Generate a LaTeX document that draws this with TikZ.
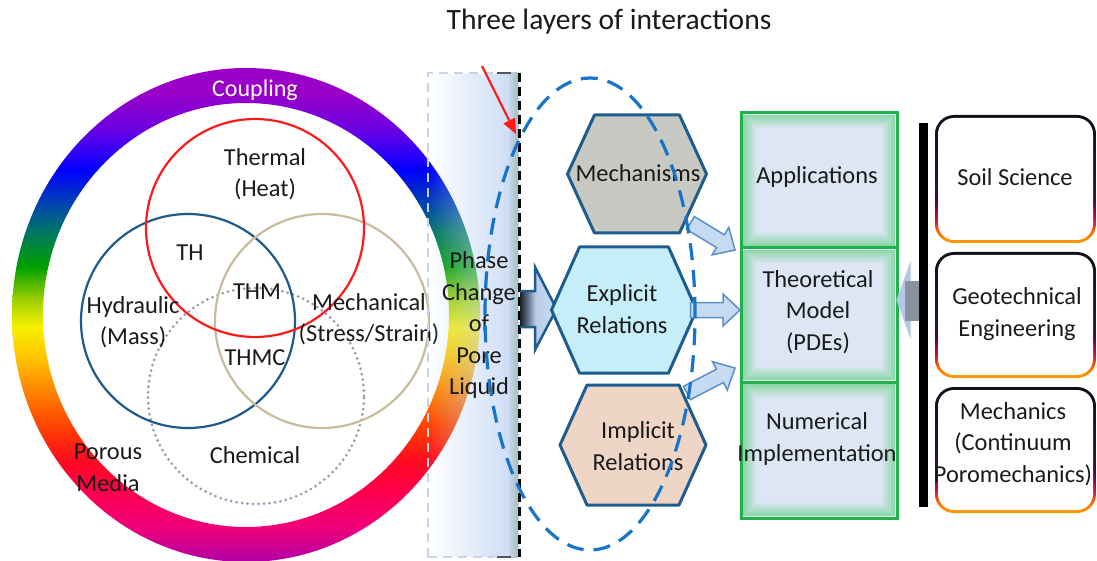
\documentclass[tikz,border=0pt]{standalone}
\usepackage{fontspec}
\setmainfont{Carlito}
\usetikzlibrary{arrows.meta,calc,fadings}

% ---------- colours ----------
\definecolor{ink}{HTML}{1A1A1A}
\definecolor{ringA}{HTML}{B000A8}
\definecolor{ringB}{HTML}{F0007A}
\definecolor{ringC}{HTML}{FF0050}
\definecolor{ringD}{HTML}{FF0A20}
\definecolor{ringE}{HTML}{FF4000}
\definecolor{ringF}{HTML}{FF8000}
\definecolor{ringG}{HTML}{FFC000}
\definecolor{ringH}{HTML}{F8F000}
\definecolor{ringI}{HTML}{A0D000}
\definecolor{ringJ}{HTML}{00A000}
\definecolor{ringK}{HTML}{007860}
\definecolor{ringL}{HTML}{0050A0}
\definecolor{ringM}{HTML}{0000FF}
\definecolor{ringN}{HTML}{3000F8}
\definecolor{ringO}{HTML}{7000E0}
\definecolor{ringP}{HTML}{9A00C8}
\definecolor{venred}{HTML}{FF1A1A}
\definecolor{venblue}{HTML}{1F5A8A}
\definecolor{ventan}{HTML}{C8BC9C}
\definecolor{vendot}{HTML}{909CB2}
\definecolor{panelblue}{HTML}{C4D6F4}
\definecolor{stripgreen}{HTML}{A8BEB6}
\definecolor{panelline}{HTML}{C8D4E6}
\definecolor{paneldark}{HTML}{505860}
\definecolor{hexblue}{HTML}{1E5C8E}
\definecolor{mechfill}{HTML}{C9C9C3}
\definecolor{explfill}{HTML}{C5EEF9}
\definecolor{implfill}{HTML}{EFD5C5}
\definecolor{baA}{HTML}{1A1E26}
\definecolor{baB}{HTML}{5C6A80}
\definecolor{baC}{HTML}{B8CCE8}
\definecolor{baD}{HTML}{C8DCF2}
\definecolor{arrline}{HTML}{5B8FC8}
\definecolor{arrfill}{HTML}{C6DBF2}
\definecolor{cellgreen}{HTML}{1DB34A}
\definecolor{glowgreen}{HTML}{6FD08A}
\definecolor{cellblue}{HTML}{DCE6F4}
\definecolor{bdA}{HTML}{FFA000}
\definecolor{bdB}{HTML}{FF7000}
\definecolor{bdC}{HTML}{D0103C}
\definecolor{bdD}{HTML}{500050}
\definecolor{bdE}{HTML}{181848}
\definecolor{bdF}{HTML}{101018}
\definecolor{dashblue}{HTML}{1874C8}
\definecolor{shaftdark}{HTML}{30343C}
\definecolor{shaftlight}{HTML}{8A92A2}
\definecolor{barhead}{HTML}{B4C8E4}

% ---------- shadings and fadings ----------
\pgfdeclareverticalshading{ringshade}{100bp}{color(0bp)=(ringA); color(25bp)=(ringA);
  color(28.54bp)=(ringB); color(31.98bp)=(ringC); color(35.32bp)=(ringD);
  color(38.66bp)=(ringE); color(42.11bp)=(ringF); color(45.45bp)=(ringG);
  color(48.79bp)=(ringH); color(51.52bp)=(ringI); color(54.86bp)=(ringJ);
  color(58.30bp)=(ringK); color(60.63bp)=(ringL); color(64.68bp)=(ringM);
  color(66.40bp)=(ringN); color(69.03bp)=(ringO); color(72.47bp)=(ringP);
  color(100bp)=(ringP)}
\pgfdeclareverticalshading{bordershade}{100bp}{color(0bp)=(bdA); color(25bp)=(bdA);
  color(29bp)=(bdB); color(34bp)=(bdC); color(41bp)=(bdD); color(50bp)=(bdE);
  color(75bp)=(bdF); color(100bp)=(bdF)}
\pgfdeclarehorizontalshading{bigarrowshade}{100bp}{color(0bp)=(baA); color(25bp)=(baA);
  color(35bp)=(baB); color(46bp)=(baC); color(75bp)=(baD); color(100bp)=(baD)}
\tikzfading[name=panelfade, left color=transparent!100, middle color=transparent!70,
  right color=transparent!10]

\newcommand\lblfont{\fontsize{24.4}{31.5}\selectfont}
\newcommand\titlefont{\fontsize{29.5}{35}\selectfont}

% hexagon outline around a named (empty) box node; #2 = horizontal inset of the corners
\newcommand\hexpath[2]{(#1.west) -- ([xshift=#2]#1.north west) -- ([xshift=-#2]#1.north east)
  -- (#1.east) -- ([xshift=-#2]#1.south east) -- ([xshift=#2]#1.south west) -- cycle}

% block arrow from coordinate #2 to coordinate #3 with style #1
\newcommand\fatarrow[3]{%
  \coordinate (#2#3b) at ($(#3)!17pt!(#2)$);
  \filldraw[#1] ($(#2)!7.5pt!90:(#3)$) -- ($(#2#3b)!7.5pt!90:(#3)$)
    -- ($(#2#3b)!16pt!90:(#3)$) -- (#3) -- ($(#2#3b)!16pt!-90:(#3)$)
    -- ($(#2#3b)!7.5pt!-90:(#3)$) -- ($(#2)!7.5pt!-90:(#3)$) -- cycle;}

\tikzset{
  txt/.style={font=\lblfont, text=ink, inner sep=0pt, outer sep=0pt, align=center},
  box/.style={inner sep=0pt, outer sep=0pt},
  vcirc/.style={circle, inner sep=0pt, outer sep=0pt, minimum size=#1, line width=2.2pt},
  hexline/.style={draw=hexblue, line width=3pt, line join=round},
  smallarr/.style={draw=arrline, fill=arrfill, line width=1.5pt, line join=miter},
  cell/.style={box, draw=cellgreen, fill=cellblue, line width=3pt, minimum width=156pt},
}

\begin{document}
\begin{tikzpicture}[x=1pt,y=-1pt]
\useasboundingbox (0,0) rectangle (1097,561);
\fill[white] (0,0) rectangle (1097,561);

% title
\node[txt, font=\titlefont] (title) at (609,22) {Three layers of interactions};

% coupling ring
\shade[shading=ringshade, even odd rule]
  (246,315) ellipse [x radius=234pt, y radius=247pt]
  (246,315) ellipse [x radius=203pt, y radius=212pt];
\node[txt, text=white, font=\fontsize{24}{28}\selectfont] (coupling) at (255,90) {Coupling};

% Venn circles
\node[vcirc=216pt, draw=vendot, dash pattern=on 0pt off 5.5pt, line cap=round, line width=3pt] (chemical) at (256,396) {};
\node[vcirc=214pt, draw=venblue] (hydraulic) at (188,321) {};
\node[vcirc=214pt, draw=ventan] (mechanical) at (322,321) {};
\node[vcirc=218pt, draw=venred] (thermal) at (255,228) {};

\node[txt] (thermaltxt) at (265,174) {Thermal\\(Heat)};
\node[txt] (thtxt) at (190,253) {TH};
\node[txt] (thmtxt) at (257,292) {THM};
\node[txt] (hydrtxt) at (133,322) {Hydraulic\\(Mass)};
\node[txt] (mechtxt) at (369,319) {Mechanical\\(Stress/Strain)};
\node[txt] (thmctxt) at (255,358) {THMC};
\node[txt] (chemtxt) at (255,455) {Chemical};
\node[txt] (poroustxt) at (108,468) {Porous\\Media};

% phase-change panel
\node[box, minimum width=91pt, minimum height=484pt] (panel) at (473.5,315) {};
\fill[panelblue, path fading=panelfade] (panel.north west) rectangle (panel.south east);
\shade[left color=panelblue, right color=stripgreen]
  ([xshift=-10pt]panel.north east) rectangle ([xshift=-1pt]panel.south east);
\draw[panelline, line width=2.5pt, dash pattern=on 9pt off 6pt]
  (panel.south west) -- (panel.north west) -- ([xshift=-24pt]panel.north east);
\draw[panelline, line width=2.5pt, dash pattern=on 9pt off 6pt]
  (panel.south west) -- ([xshift=-24pt]panel.south east);
\draw[paneldark, line width=2.5pt] ([xshift=-22pt]panel.north east) -- ([xshift=-8pt]panel.north east);
\draw[paneldark, line width=2.5pt] ([xshift=-22pt]panel.south east) -- ([xshift=-8pt]panel.south east);
\draw[black, line width=3pt, dash pattern=on 9pt off 5pt] (panel.north east) -- (panel.south east);
\node[txt] (phasetxt) at (479,325) {Phase\\Change\\of\\Pore\\Liquid};

% hexagon boxes
\node[box, minimum width=139pt, minimum height=118pt] (mech) at (637,174) {};
\node[box, minimum width=145pt, minimum height=126pt] (expl) at (624,310) {};
\node[box, minimum width=146pt, minimum height=120pt] (impl) at (633,445) {};

% wide arrow from the panel into the explicit relations
\coordinate (ba0) at ($(panel.east)+(0,-6)$);
\coordinate (ba1) at ($(expl.west)+(5,-1)$);
\shadedraw[shading=bigarrowshade, draw=hexblue, line width=2.5pt, line join=miter]
  ($(ba0)+(1,-18)$) -- ($(ba0)+(16,-18)$) -- ($(ba0)+(16,-42)$) -- (ba1)
  -- ($(ba0)+(16,41)$) -- ($(ba0)+(16,18)$) -- ($(ba0)+(1,18)$);

\filldraw[hexline, fill=mechfill] \hexpath{mech}{27pt};
\filldraw[hexline, fill=explfill] \hexpath{expl}{28pt};
\filldraw[hexline, fill=implfill] \hexpath{impl}{27pt};
\node[txt] (mechhex) at (638,173) {Mechanisms};
\node[txt] (explhex) at (622,309) {Explicit\\Relations};
\node[txt] (implhex) at (638,446) {Implicit\\Relations};

% green model column
\node[cell, minimum height=135pt] (apps) at (819,180.5) {};
\node[cell, minimum height=134pt] (theo) at (819,315) {};
\node[cell, minimum height=136pt] (numer) at (819,450) {};
\foreach \c in {apps,theo,numer}{
  \foreach \i in {1,...,10}{
    \pgfmathsetmacro\pct{80-8*\i}
    \pgfmathsetmacro\d{1.3+1.5*\i}
    \draw[draw=glowgreen!\pct!cellblue, line width=1.6pt]
      ([shift={(\d,\d)}]\c.north west) rectangle ([shift={(-\d,-\d)}]\c.south east);
  }
  \draw[cellgreen, line width=3pt] (\c.north west) rectangle (\c.south east);
}
\node[txt] (appstxt) at (817,177) {Applications};
\node[txt] (theotxt) at (818,312) {Theoretical\\Model\\(PDEs)};
\node[txt] (numertxt) at (817,439) {Numerical\\Implementation};

% arrows from the hexagons to the model
\coordinate (a1s) at ($(mech.south east)+(-16,-10)$);
\coordinate (a1e) at ($(theo.north west)+(-6,2)$);
\coordinate (a2s) at ($(expl.east)+(-6,0)$);
\coordinate (a2e) at ($(theo.west |- expl.east)+(-1,0)$);
\coordinate (a3s) at ($(impl.north east)+(-19,8)$);
\coordinate (a3e) at ($(numer.north west)+(-6,-14)$);
\fatarrow{smallarr}{a1s}{a1e}
\fatarrow{smallarr}{a2s}{a2e}
\fatarrow{smallarr}{a3s}{a3e}

% disciplines
\node[box, fill=black, minimum width=9pt, minimum height=384pt] (bar) at (923.5,315) {};
\coordinate (bt) at ($(theo.east)+(0,-15)$);
\coordinate (bs) at ($(bar.west)+(0,-15)$);
\fill[barhead, opacity=0.6] ($(bt)+(-1,0)$) -- ($(bt)+(14,-40)$) -- ($(bt)+(14,40)$) -- cycle;
\fill[barhead] (bt) -- ($(bt)+(13,-37)$) -- ($(bt)+(13,37)$) -- cycle;
\shade[top color=shaftlight, middle color=shaftdark, bottom color=shaftlight]
  ($(bs)+(-14,-19)$) rectangle ($(bs)+(0,20)$);

\node[box, minimum width=161pt, minimum height=128pt] (soil) at (1015.5,179) {};
\node[box, minimum width=161pt, minimum height=126pt] (geo) at (1015.5,315) {};
\node[box, minimum width=161pt, minimum height=126pt] (mecx) at (1015.5,450) {};
\foreach \b in {soil,geo,mecx}{
  \shade[shading=bordershade, rounded corners=19pt] (\b.north west) rectangle (\b.south east);
  \fill[white, rounded corners=16pt] ([shift={(3,3)}]\b.north west) rectangle ([shift={(-3,-3)}]\b.south east);
}
\node[txt] (soiltxt) at (1015,177) {Soil Science};
\node[txt] (geotxt) at (1017,314) {Geotechnical\\Engineering};
\node[txt] (mecxtxt) at (1013,444) {Mechanics\\(Continuum\\Poromechanics)};

% dashed ellipse over the three layers
\draw[dashblue, line width=3.2pt, dash pattern=on 17pt off 10pt]
  (590,314) ellipse [x radius=105pt, y radius=236pt];

% red pointer: shaft plus a filled head
\coordinate (redtail) at (482,66);
\coordinate (redtip) at (516,134);
\coordinate (redbase) at ($(redtip)!15pt!(redtail)$);
\draw[venred, line width=2.2pt] (redtail) -- (redbase);
\fill[venred] (redtip) -- ($(redbase)!6.5pt!90:(redtip)$) -- ($(redbase)!6.5pt!-90:(redtip)$) -- cycle;
\end{tikzpicture}
\end{document}
